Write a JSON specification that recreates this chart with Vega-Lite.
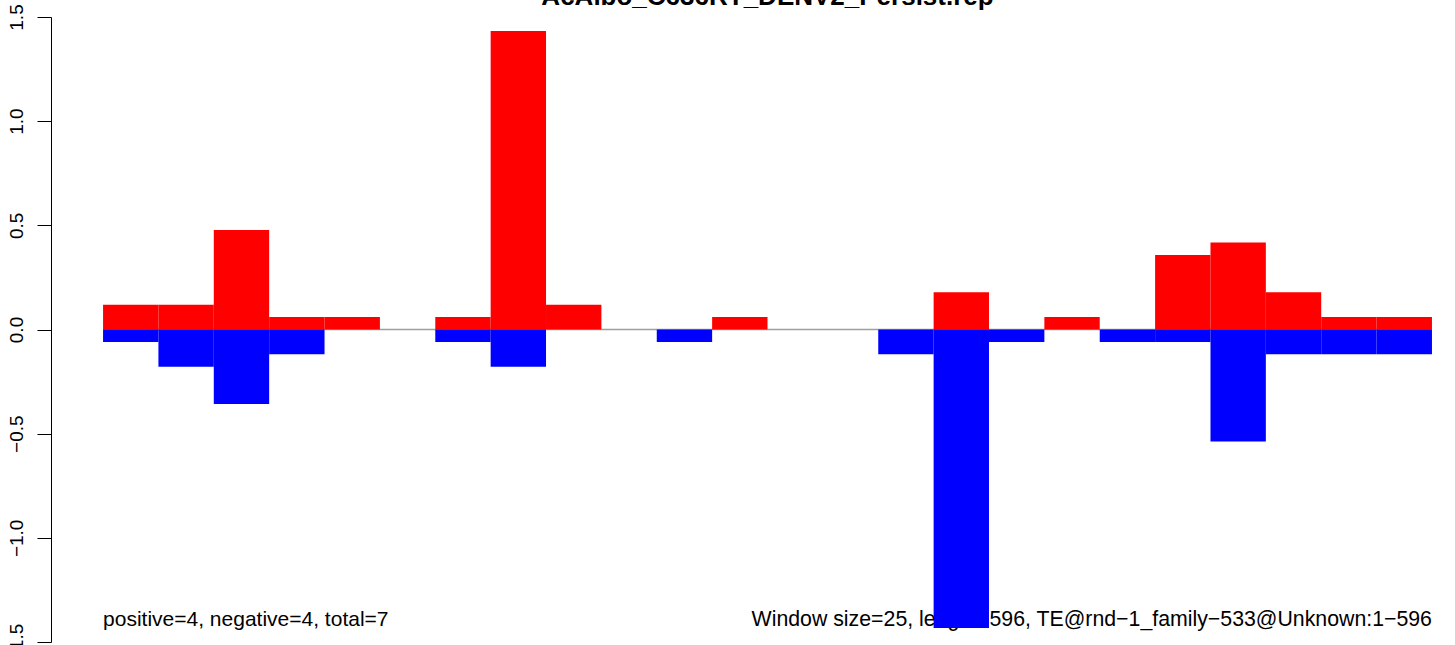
{
  "$schema": "https://vega.github.io/schema/vega-lite/v6.json",
  "width": 1404,
  "height": 625,
  "autosize": {"type": "none"},
  "padding": {"left": 51, "top": 17, "right": 0, "bottom": 3},
  "background": "white",
  "config": {
    "view": {"stroke": null},
    "font": "Liberation Sans"
  },
  "datasets": {
    "bars": [
      {"start": 0, "end": 25, "strand": "positive", "value": 0.119},
      {"start": 25, "end": 50, "strand": "positive", "value": 0.119},
      {"start": 50, "end": 75, "strand": "positive", "value": 0.478},
      {"start": 75, "end": 100, "strand": "positive", "value": 0.06},
      {"start": 100, "end": 125, "strand": "positive", "value": 0.06},
      {"start": 150, "end": 175, "strand": "positive", "value": 0.06},
      {"start": 175, "end": 200, "strand": "positive", "value": 1.433},
      {"start": 200, "end": 225, "strand": "positive", "value": 0.119},
      {"start": 275, "end": 300, "strand": "positive", "value": 0.06},
      {"start": 375, "end": 400, "strand": "positive", "value": 0.179},
      {"start": 425, "end": 450, "strand": "positive", "value": 0.06},
      {"start": 475, "end": 500, "strand": "positive", "value": 0.358},
      {"start": 500, "end": 525, "strand": "positive", "value": 0.418},
      {"start": 525, "end": 550, "strand": "positive", "value": 0.179},
      {"start": 550, "end": 575, "strand": "positive", "value": 0.06},
      {"start": 575, "end": 600, "strand": "positive", "value": 0.06},
      {"start": 0, "end": 25, "strand": "negative", "value": -0.06},
      {"start": 25, "end": 50, "strand": "negative", "value": -0.179},
      {"start": 50, "end": 75, "strand": "negative", "value": -0.358},
      {"start": 75, "end": 100, "strand": "negative", "value": -0.119},
      {"start": 150, "end": 175, "strand": "negative", "value": -0.06},
      {"start": 175, "end": 200, "strand": "negative", "value": -0.179},
      {"start": 250, "end": 275, "strand": "negative", "value": -0.06},
      {"start": 350, "end": 375, "strand": "negative", "value": -0.119},
      {"start": 375, "end": 400, "strand": "negative", "value": -1.433},
      {"start": 400, "end": 425, "strand": "negative", "value": -0.06},
      {"start": 450, "end": 475, "strand": "negative", "value": -0.06},
      {"start": 475, "end": 500, "strand": "negative", "value": -0.06},
      {"start": 500, "end": 525, "strand": "negative", "value": -0.537},
      {"start": 525, "end": 550, "strand": "negative", "value": -0.119},
      {"start": 550, "end": 575, "strand": "negative", "value": -0.119},
      {"start": 575, "end": 600, "strand": "negative", "value": -0.119}
    ],
    "notes": [
      {"start": 0, "value": -1.424, "side": "left", "label": "positive=4, negative=4, total=7"},
      {"start": 600, "value": -1.424, "side": "right", "label": "Window size=25, length=596, TE@rnd−1_family−533@Unknown:1−596"},
      {"start": 300, "value": 1.56, "side": "title", "label": "AcAlbo_C636RT_DENV2_Persist.rep"}
    ],
    "zeroline": [
      {"start": 0, "end": 600, "value": 0}
    ]
  },
  "encoding": {
    "x": {
      "field": "start",
      "type": "quantitative",
      "scale": {"domain": [-23.5, 610.4], "nice": false, "zero": false},
      "axis": null
    },
    "y": {
      "field": "value",
      "type": "quantitative",
      "scale": {"domain": [-1.5, 1.5], "nice": false, "zero": false},
      "axis": {
        "title": null,
        "values": [-1.5, -1, -0.5, 0, 0.5, 1, 1.5],
        "format": ".1f",
        "grid": false,
        "domainColor": "black",
        "domainWidth": 1,
        "tickColor": "black",
        "tickWidth": 1,
        "tickSize": 14,
        "labelAngle": -90,
        "labelAlign": "center",
        "labelBaseline": "alphabetic",
        "labelPadding": 15,
        "labelFont": "Liberation Sans",
        "labelFontSize": 19,
        "labelColor": "black",
        "labelFlush": false,
        "labelOverlap": false
      }
    }
  },
  "layer": [
    {
      "data": {"name": "notes"},
      "transform": [{"filter": "datum.side === 'title'"}],
      "mark": {"type": "text", "align": "center", "baseline": "alphabetic", "font": "Liberation Sans", "fontSize": 26, "fontWeight": "bold", "color": "black"},
      "encoding": {
        "text": {"field": "label", "type": "nominal"}
      }
    },
    {
      "data": {"name": "notes"},
      "transform": [{"filter": "datum.side === 'left'"}],
      "mark": {"type": "text", "align": "left", "baseline": "alphabetic", "font": "Liberation Sans", "fontSize": 21, "color": "black"},
      "encoding": {
        "text": {"field": "label", "type": "nominal"}
      }
    },
    {
      "data": {"name": "notes"},
      "transform": [{"filter": "datum.side === 'right'"}],
      "mark": {"type": "text", "align": "right", "baseline": "alphabetic", "font": "Liberation Sans", "fontSize": 21.3, "color": "black"},
      "encoding": {
        "text": {"field": "label", "type": "nominal"}
      }
    },
    {
      "data": {"name": "zeroline"},
      "mark": {"type": "rule", "color": "#9E9E9E", "strokeWidth": 1.5},
      "encoding": {
        "x2": {"field": "end"}
      }
    },
    {
      "data": {"name": "bars"},
      "mark": {"type": "bar"},
      "encoding": {
        "x2": {"field": "end"},
        "y2": {"datum": 0},
        "color": {
          "field": "strand",
          "type": "nominal",
          "scale": {"domain": ["positive", "negative"], "range": ["#FF0000", "#0000FF"]},
          "legend": null
        }
      }
    }
  ]
}
